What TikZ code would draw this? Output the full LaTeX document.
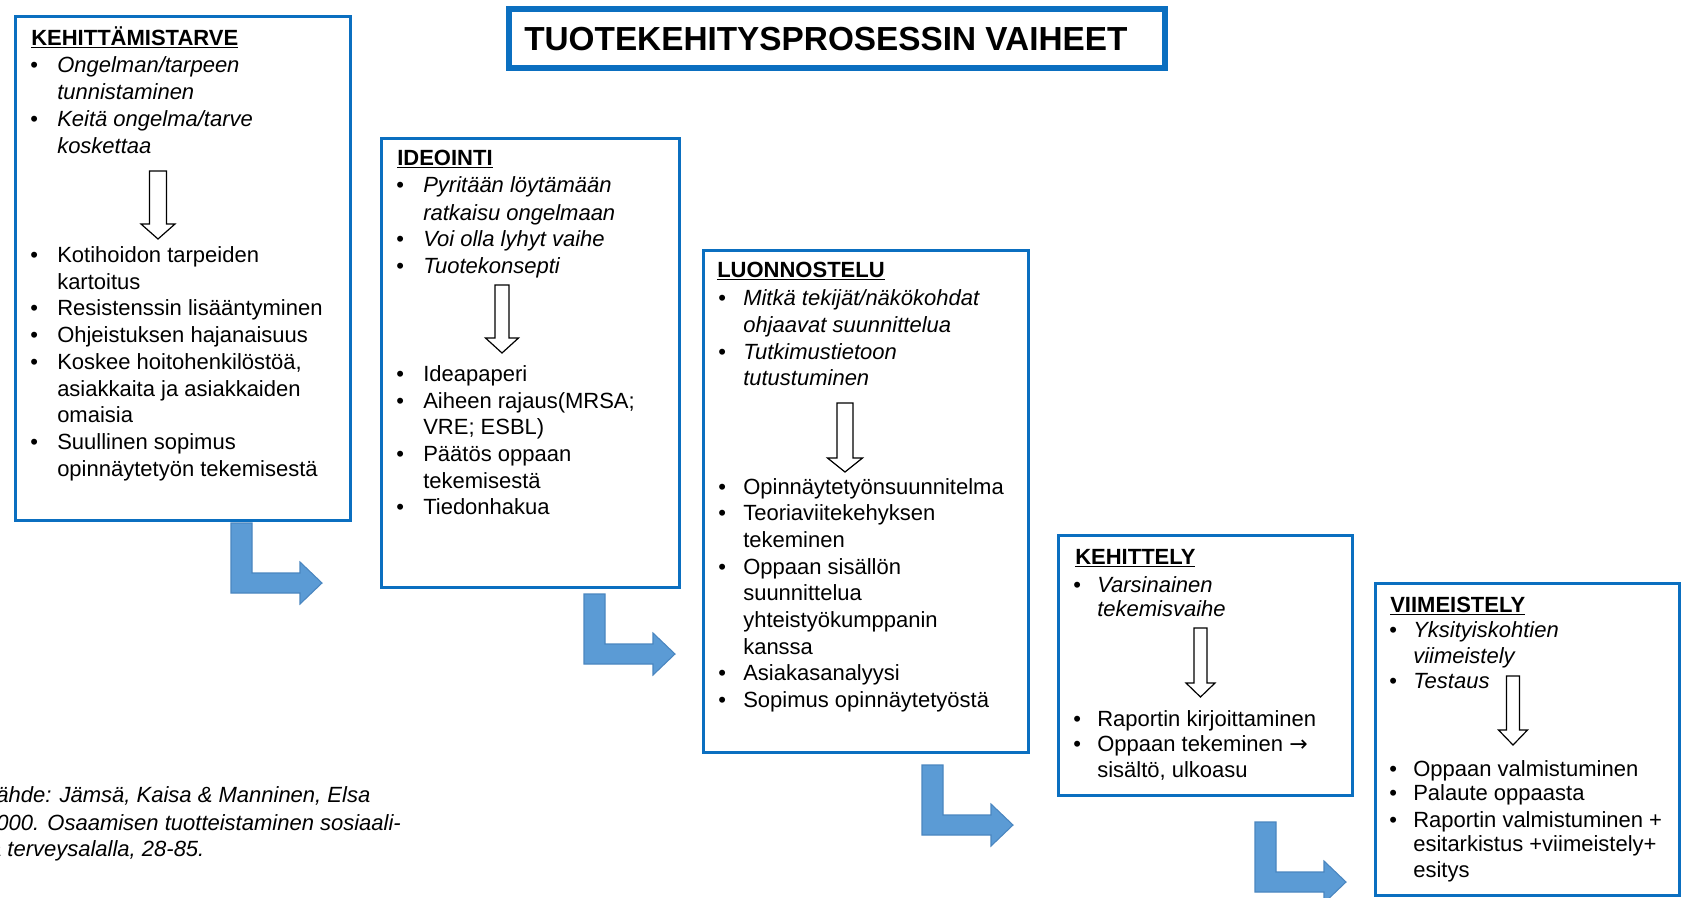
\documentclass[tikz,border=0pt]{standalone}
\usepackage{fontspec}
\setmainfont{Liberation Sans}
\newfontfamily\arrowfont{DejaVu Sans}
\usetikzlibrary{fit}
\definecolor{boxblue}{HTML}{0B6FC0}
\definecolor{arrowblue}{HTML}{5B9BD5}
\definecolor{arrowedge}{HTML}{4A86C0}
\newcounter{ln}
\newcommand\Ln[3]{\stepcounter{ln}\node[txt] (ln\theln) at (#1,#2) {#3};}
\newcommand\Lni[3]{\stepcounter{ln}\node[txt,font=\fontsize{16.5}{20}\selectfont\itshape] (ln\theln) at (#1,#2) {#3};}
\newcommand\Bu[2]{\stepcounter{ln}\node[txt] (bu\theln) at (#1-4,#2) {•};}
\newcommand\Hd[3]{\stepcounter{ln}\node[txt,font=\fontsize{16.5}{20}\selectfont\bfseries] (hd\theln) at (#1,#2) {\underline{#3}};}
\newcommand\WArrow[6]{\draw[warrow] (#1-#3,#2) -- (#1+#3,#2) -- (#1+#3,#5) -- (#1+#4,#5) -- (#1,#6) -- (#1-#4,#5) -- (#1-#3,#5) -- cycle;}
\newcommand\LArrow[1]{\draw[larrow] (#1) -- ++(21,0) -- ++(0,50) -- ++(48,0) -- ++(0,-11) -- ++(22,21) -- ++(-22,21) -- ++(0,-11) -- ++(-69,0) -- cycle;}
\begin{document}
\begin{tikzpicture}[x=0.75pt,y=-0.75pt,
  txt/.style={anchor=base west,inner sep=0pt,font=\fontsize{16.5}{20}\selectfont},
  box/.style={draw=boxblue,line width=2.25pt,inner sep=0pt,fill=white},
  titlebox/.style={draw=boxblue,line width=4.5pt,inner sep=0pt,fill=white},
  warrow/.style={draw=black,line width=0.9pt,fill=white,line join=miter},
  larrow/.style={draw=arrowedge,line width=0.8pt,fill=arrowblue,line join=miter}]
\useasboundingbox (0,0) rectangle (1685,897);
\clip (0,0) rectangle (1685,897);
\fill[white] (0,0) rectangle (1685,897);

% title
\node[titlebox,fit={(509,9) (1165,68)}] (title) {};
\node[txt,font=\fontsize{25}{28}\selectfont\bfseries] (titletext) at (524,50) {TUOTEKEHITYSPROSESSIN VAIHEET};

% boxes
\node[box,fit={(15,16) (350,520)}] (kehittamistarve) {};
\node[box,fit={(381,138) (679,587)}] (ideointi) {};
\node[box,fit={(703,250) (1028,752)}] (luonnostelu) {};
\node[box,fit={(1058,535) (1352,795)}] (kehittely) {};
\node[box,fit={(1375,583) (1679,895)}] (viimeistely) {};

% blue L arrows
\coordinate (la1) at (231,523);
\coordinate (la2) at (584,594);
\coordinate (la3) at (922,765);
\coordinate (la4) at (1255,822);
\LArrow{la1}
\LArrow{la2}
\LArrow{la3}
\LArrow{la4}

% white down arrows
\WArrow{158}{171}{8.5}{17}{224}{239}
\WArrow{502}{285}{7}{16.5}{338}{353}
\WArrow{845}{403}{8}{17.5}{458}{472}
\WArrow{1200.5}{628}{6.5}{14.5}{683}{697}
\WArrow{1513}{676}{6.5}{14.5}{730}{745}

% box 1
\Hd{31}{45}{KEHITTÄMISTARVE}
\Bu{34}{72}\Lni{57}{72}{Ongelman/tarpeen}
\Lni{57}{99}{tunnistaminen}
\Bu{34}{126}\Lni{57}{126}{Keitä ongelma/tarve}
\Lni{57}{153}{koskettaa}
\Bu{34}{262}\Ln{57}{262}{Kotihoidon tarpeiden}
\Ln{57}{289}{kartoitus}
\Bu{34}{315}\Ln{57}{315}{Resistenssin lisääntyminen}
\Bu{34}{342}\Ln{57}{342}{Ohjeistuksen hajanaisuus}
\Bu{34}{369}\Ln{57}{369}{Koskee hoitohenkilöstöä,}
\Ln{57}{396}{asiakkaita ja asiakkaiden}
\Ln{57}{422}{omaisia}
\Bu{34}{449}\Ln{57}{449}{Suullinen sopimus}
\Ln{57}{476}{opinnäytetyön tekemisestä}

% box 2
\Hd{397}{165}{IDEOINTI}
\Bu{400}{192}\Lni{423}{192}{Pyritään löytämään}
\Lni{423}{220}{ratkaisu ongelmaan}
\Bu{400}{246}\Lni{423}{246}{Voi olla lyhyt vaihe}
\Bu{400}{273}\Lni{423}{273}{Tuotekonsepti}
\Bu{400}{381}\Ln{423}{381}{Ideapaperi}
\Bu{400}{408}\Ln{423}{408}{Aiheen rajaus(MRSA;}
\Ln{423}{434}{VRE; ESBL)}
\Bu{400}{461}\Ln{423}{461}{Päätös oppaan}
\Ln{423}{488}{tekemisestä}
\Bu{400}{514}\Ln{423}{514}{Tiedonhakua}

% box 3
\Hd{717}{277}{LUONNOSTELU}
\Bu{722}{305}\Lni{743}{305}{Mitkä tekijät/näkökohdat}
\Lni{743}{332}{ohjaavat suunnittelua}
\Bu{722}{359}\Lni{743}{359}{Tutkimustietoon}
\Lni{743}{385}{tutustuminen}
\Bu{722}{494}\Ln{743}{494}{Opinnäytetyönsuunnitelma}
\Bu{722}{520}\Ln{743}{520}{Teoriaviitekehyksen}
\Ln{743}{547}{tekeminen}
\Bu{722}{574}\Ln{743}{574}{Oppaan sisällön}
\Ln{743}{600}{suunnittelua}
\Ln{743}{627}{yhteistyökumppanin}
\Ln{743}{654}{kanssa}
\Bu{722}{680}\Ln{743}{680}{Asiakasanalyysi}
\Bu{722}{707}\Ln{743}{707}{Sopimus opinnäytetyöstä}

% box 4
\Hd{1075}{564}{KEHITTELY}
\Bu{1077}{592}\Lni{1097}{592}{Varsinainen}
\Lni{1097}{616}{tekemisvaihe}
\Bu{1077}{726}\Ln{1097}{726}{Raportin kirjoittaminen}
\Bu{1077}{751}\Ln{1097}{751}{Oppaan tekeminen {\arrowfont →}}
\Ln{1097}{777}{sisältö, ulkoasu}

% box 5
\Hd{1390}{612}{VIIMEISTELY}
\Bu{1393}{637}\Lni{1413}{637}{Yksityiskohtien}
\Lni{1413}{663}{viimeistely}
\Bu{1393}{688}\Lni{1413}{688}{Testaus}
\Bu{1393}{776}\Ln{1413}{776}{Oppaan valmistuminen}
\Bu{1393}{800}\Ln{1413}{800}{Palaute oppaasta}
\Bu{1393}{827}\Ln{1413}{827}{Raportin valmistuminen +}
\Ln{1413}{851}{esitarkistus +viimeistely+}
\Ln{1413}{877}{esitys}

% source
\Lni{-16}{802}{Lähde: Jämsä, Kaisa \& Manninen, Elsa}
\Lni{-16}{830}{2000. Osaamisen tuotteistaminen sosiaali-}
\Lni{-16}{856}{ja terveysalalla, 28-85.}
\end{tikzpicture}
\end{document}
